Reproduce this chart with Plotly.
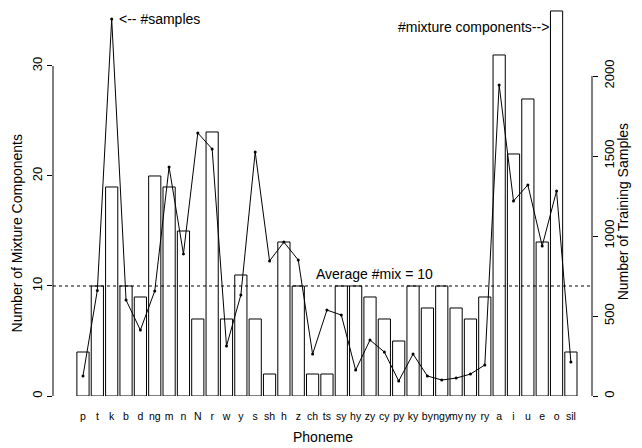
import plotly.graph_objects as go

# ---- data ----
phonemes = ["p", "t", "k", "b", "d", "ng", "m", "n", "N", "r", "w", "y", "s", "sh",
            "h", "z", "ch", "ts", "sy", "hy", "zy", "cy", "py", "ky", "by", "ngy",
            "my", "ny", "ry", "a", "i", "u", "e", "o", "sil"]
mix_components = [4, 10, 19, 10, 9, 20, 19, 15, 7, 24, 7, 11, 7, 2, 14, 10, 2, 2, 10,
                  10, 9, 7, 5, 10, 8, 10, 8, 7, 9, 31, 22, 27, 14, 35, 4]
training_samples = [125, 660, 2356, 600, 412, 656, 1431, 888, 1644, 1544, 312, 631,
                    1525, 844, 962, 850, 262, 537, 506, 162, 350, 275, 94, 262, 125,
                    100, 112, 137, 194, 1944, 1219, 1319, 938, 1281, 212]
average_mix = 10
left_ticks = [0, 10, 20, 30]
right_ticks = [0, 500, 1000, 1500, 2000]

FONT = "Liberation Sans, Arial, sans-serif"

fig = go.Figure()
fig.add_trace(go.Bar(
    x=phonemes, y=mix_components, width=0.85,
    marker=dict(color="white", line=dict(color="black", width=1)),
    yaxis="y", showlegend=False,
))
fig.add_trace(go.Scatter(
    x=phonemes, y=training_samples, mode="lines+markers",
    line=dict(color="black", width=1),
    marker=dict(color="black", size=3),
    yaxis="y2", showlegend=False,
))

fig.update_layout(
    width=634, height=440,
    margin=dict(l=45, r=50, t=0, b=52, pad=0, autoexpand=False),
    paper_bgcolor="white", plot_bgcolor="white",
    font=dict(family=FONT, color="black"),
    xaxis=dict(type="category", range=[-2.09, 35.47], showgrid=False,
               showline=False, zeroline=False, ticks="outside", ticklen=10,
               tickcolor="rgba(0,0,0,0)", tickfont=dict(size=10.5),
               tickangle=0, automargin=False),
    yaxis=dict(range=[0, 35.27], tickvals=left_ticks, tickangle=-90,
               ticks="outside", ticklen=5, tickcolor="black",
               showgrid=False, showline=False, zeroline=False,
               tickfont=dict(size=13), automargin=False),
    yaxis2=dict(range=[0, 2425], tickvals=right_ticks, tickangle=-90,
                overlaying="y", side="right",
                ticks="outside", ticklen=5, tickcolor="black",
                showgrid=False, showline=False, zeroline=False,
                tickfont=dict(size=13), automargin=False),
    shapes=[
        dict(type="line", xref="paper", yref="y", x0=0, x1=0,
             y0=left_ticks[0], y1=left_ticks[-1], line=dict(color="black", width=1)),
        dict(type="line", xref="paper", yref="y2", x0=1, x1=1,
             y0=right_ticks[0], y1=right_ticks[-1], line=dict(color="black", width=1)),
        dict(type="line", xref="paper", yref="y", x0=0, x1=1,
             y0=average_mix, y1=average_mix,
             line=dict(color="black", width=1, dash="dot")),
    ],
    annotations=[
        dict(text="<-- #samples", xref="x", yref="y2", x=2, y=max(training_samples),
             xanchor="left", yanchor="middle", showarrow=False, xshift=5,
             font=dict(size=14)),
        dict(text="#mixture components-->", xref="x", yref="y", x=32.6, y=33.5,
             xanchor="right", yanchor="middle", showarrow=False,
             font=dict(size=14)),
        dict(text="Average #mix = %d" % average_mix, xref="x", yref="y", x=16.1,
             y=average_mix, xanchor="left", yanchor="bottom", showarrow=False,
             yshift=2, font=dict(size=14)),
        dict(text="Phoneme", xref="paper", yref="paper", x=0.5, y=-0.105,
             xanchor="center", yanchor="middle", showarrow=False,
             font=dict(size=14)),
        dict(text="Number of Mixture Components", xref="paper", yref="paper",
             x=-0.066, y=0.42, textangle=-90, xanchor="center", yanchor="middle",
             showarrow=False, font=dict(size=14)),
        dict(text="Number of Training Samples", xref="paper", yref="paper",
             x=1.058, y=0.474, textangle=-90, xanchor="center", yanchor="middle",
             showarrow=False, font=dict(size=14)),
    ],
)

fig.write_html("out.html")
